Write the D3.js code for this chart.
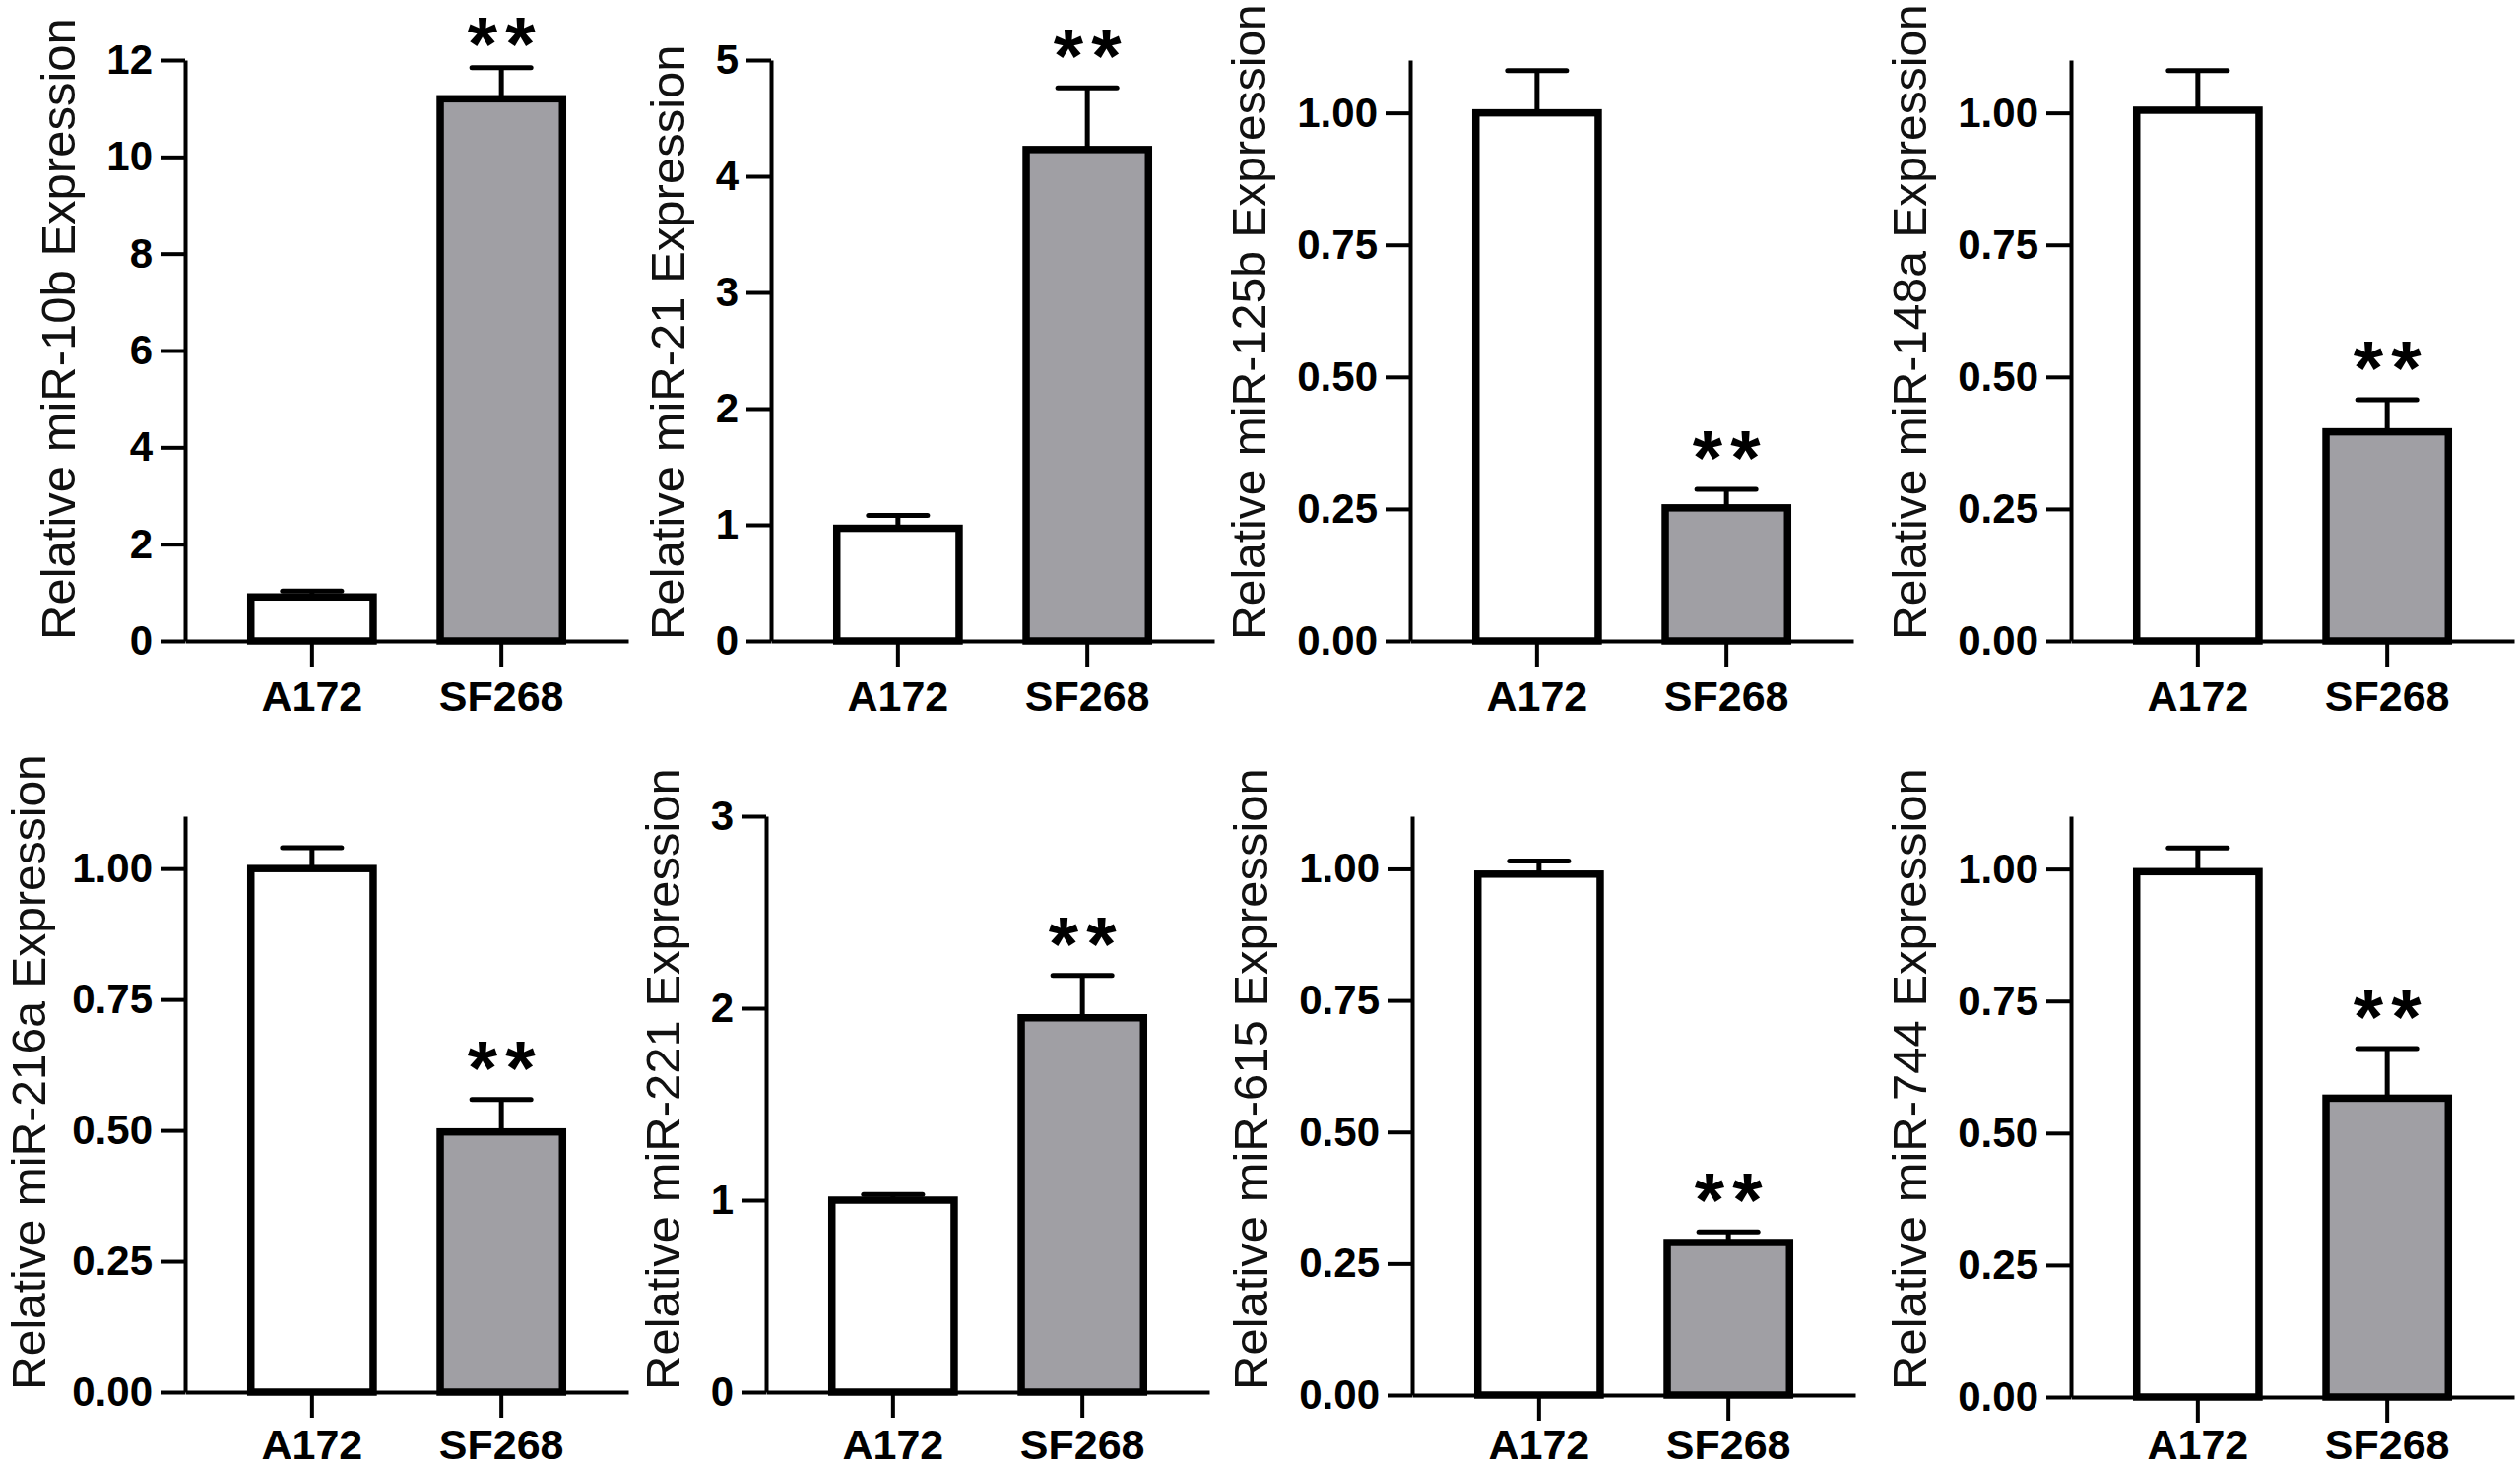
<!DOCTYPE html>
<html>
<head>
<meta charset="utf-8">
<script src="https://cdn.jsdelivr.net/npm/d3@7"></script>
<style>
body { margin: 0; background: #fff; }
text { font-family: "Liberation Sans", Arial, sans-serif; }
</style>
</head>
<body>
<div id="chart"></div>
<script>

// data
var cells = ["A172", "SF268"];
var genes = ["miR-10b", "miR-21", "miR-125b", "miR-148a", "miR-216a", "miR-221", "miR-615", "miR-744"];
var a172Mean = [0.91, 0.97, 1.00, 1.005, 1.00, 1.00, 0.99, 0.995];
var a172Err  = [0.12, 0.11, 0.08, 0.075, 0.04, 0.03, 0.025, 0.045];
var sf268Mean = [11.2, 4.23, 0.252, 0.396, 0.497, 1.95, 0.29, 0.566];
var sf268Err  = [0.64, 0.53, 0.035, 0.061, 0.062, 0.22, 0.02, 0.094];
var signif = ["", "**"];
var yMax = [12, 5, 1.1, 1.1, 1.1, 3, 1.1, 1.1];
var yTicks = [
  [0, 2, 4, 6, 8, 10, 12],
  [0, 1, 2, 3, 4, 5],
  [0, 0.25, 0.5, 0.75, 1],
  [0, 0.25, 0.5, 0.75, 1],
  [0, 0.25, 0.5, 0.75, 1],
  [0, 1, 2, 3],
  [0, 0.25, 0.5, 0.75, 1],
  [0, 0.25, 0.5, 0.75, 1]
];
var tickFormats = ["d", "d", ".2f", ".2f", ".2f", "d", ".2f", ".2f"];

// layout of the 8 panels (pixels)
var W = 2559, H = 1492;
var originX = [188, 783, 1432, 2103, 188, 778, 1434, 2103];
var baseY = [651, 651, 651, 651, 1414, 1414, 1417, 1419];
var topY = [61, 61, 61, 61, 829, 829, 829, 829];
var titleStartY = [650, 650, 650, 650, 1412, 1412, 1412, 1412];
var titleRoom = [646, 646, 646, 646, 646, 646, 646, 646];
var plotW = 450;

var fills = ["#ffffff", "#a09fa4"];

var svg = d3.select("#chart").append("svg")
  .attr("width", W)
  .attr("height", H);

for (var i = 0; i < genes.length; i++) {
  drawPanel(i);
}

function drawPanel(i) {
  var g = svg.append("g")
    .attr("transform", "translate(" + originX[i] + ",0)");

  var x = d3.scaleBand()
    .domain(cells)
    .range([0, plotW])
    .paddingInner(0.354)
    .paddingOuter(0.347);

  var y = d3.scaleLinear()
    .domain([0, yMax[i]])
    .range([baseY[i], topY[i]]);

  var rows = cells.map(function(c, j) {
    return {
      cell: c,
      mean: j == 0 ? a172Mean[i] : sf268Mean[i],
      err: j == 0 ? a172Err[i] : sf268Err[i],
      fill: fills[j],
      star: signif[j]
    };
  });

  // y axis
  var yAxis = g.append("g")
    .attr("class", "yaxis")
    .call(d3.axisLeft(y)
      .tickValues(yTicks[i])
      .tickFormat(d3.format(tickFormats[i]))
      .tickSize(25)
      .tickSizeOuter(0)
      .tickPadding(8));

  // x axis, labels kept inside the page at the bottom
  var xFont = 43;
  var xPad = Math.min(14, H - 10 - baseY[i] - 26 - 0.71 * xFont);
  var xAxis = g.append("g")
    .attr("transform", "translate(0," + baseY[i] + ")")
    .call(d3.axisBottom(x)
      .tickSize(26)
      .tickSizeOuter(0)
      .tickPadding(xPad));

  g.selectAll(".domain, .tick line")
    .attr("stroke", "#000")
    .attr("stroke-width", 4);

  yAxis.selectAll("text")
    .attr("fill", "#000")
    .style("font-size", "42px")
    .style("font-weight", "bold");

  xAxis.selectAll("text")
    .attr("fill", "#000")
    .style("font-size", xFont + "px")
    .style("font-weight", "bold");

  // bars
  g.selectAll(".bar")
    .data(rows)
    .enter().append("rect")
    .attr("class", "bar")
    .attr("x", function(d) { return x(d.cell); })
    .attr("width", x.bandwidth())
    .attr("y", function(d) { return y(d.mean); })
    .attr("height", function(d) { return y(0) - y(d.mean); })
    .attr("fill", function(d) { return d.fill; })
    .attr("stroke", "#000")
    .attr("stroke-width", 7.5);

  // error bars (upper only)
  var cx = function(d) { return x(d.cell) + x.bandwidth() / 2; };

  g.selectAll(".errv")
    .data(rows)
    .enter().append("line")
    .attr("x1", cx)
    .attr("x2", cx)
    .attr("y1", function(d) { return y(d.mean); })
    .attr("y2", function(d) { return y(d.mean + d.err); })
    .attr("stroke", "#000")
    .attr("stroke-width", 5);

  g.selectAll(".errcap")
    .data(rows)
    .enter().append("line")
    .attr("x1", function(d) { return cx(d) - 30; })
    .attr("x2", function(d) { return cx(d) + 30; })
    .attr("y1", function(d) { return y(d.mean + d.err); })
    .attr("y2", function(d) { return y(d.mean + d.err); })
    .attr("stroke", "#000")
    .attr("stroke-width", 5)
    .attr("stroke-linecap", "round");

  // significance stars (baseline kept low enough that the text stays on the page)
  var starFont = 78;
  g.selectAll(".star")
    .data(rows.filter(function(d) { return d.star; }))
    .enter().append("text")
    .attr("x", function(d) { return cx(d) + 4; })
    .attr("y", function(d) { return Math.max(y(d.mean + d.err) - 5, starFont * 0.92); })
    .attr("text-anchor", "middle")
    .style("font-size", starFont + "px")
    .style("font-weight", "bold")
    .style("letter-spacing", "8px")
    .text(function(d) { return d.star; });

  // y title, placed left of the widest tick label but not past the page edge
  var titleFont = 49;
  var labelLeft = d3.min(yAxis.selectAll("text").nodes(), function(n) {
    return n.getBBox().x;
  });
  var tx = Math.max(labelLeft - 32, titleFont * 0.93 - originX[i]);
  var title = g.append("text")
    .attr("transform", "translate(" + tx + "," + titleStartY[i] + ") rotate(-90)")
    .attr("text-anchor", "start")
    .attr("fill", "#111")
    .style("font-size", titleFont + "px")
    .text("Relative " + genes[i] + " Expression");
  var len = title.node().getComputedTextLength();
  if (len > titleRoom[i]) {
    title.style("font-size", (titleFont * titleRoom[i] / len) + "px");
  }
}
</script>
</body>
</html>
